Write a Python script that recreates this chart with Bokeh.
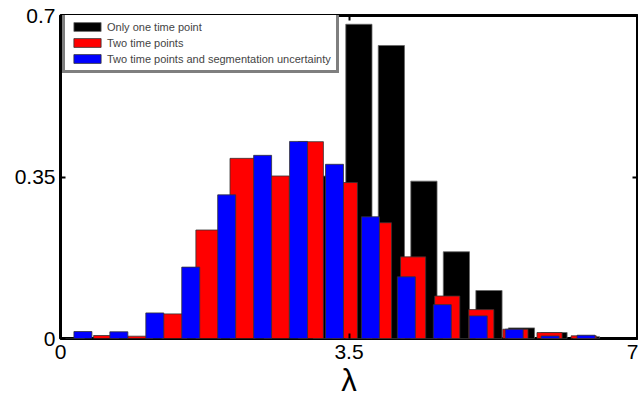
from bokeh.plotting import figure
from bokeh.models import Range1d, FixedTicker, LinearAxis
from bokeh.embed import file_html
from bokeh.resources import INLINE

# Series: "Only one time point" (black)
black_x = [3.226, 3.620, 4.014, 4.409, 4.803, 5.198, 5.592, 5.987, 6.381]
black_y = [0.352, 0.681, 0.635, 0.341, 0.188, 0.104, 0.023, 0.013, 0.004]

# Series: "Two time points" (red)
red_x = [0.1405, 0.554, 0.968, 1.382, 1.795, 2.209, 2.623, 3.037, 3.450,
         3.864, 4.278, 4.692, 5.105, 5.519, 5.933, 6.347]
red_y = [0.0, 0.0065, 0.0050, 0.0533, 0.2351, 0.3904, 0.3522, 0.4265, 0.3380,
         0.2509, 0.1769, 0.0921, 0.0626, 0.0201, 0.0129, 0.0058]

# Series: "Two time points and segmentation uncertainty" (blue)
blue_x = [0.272, 0.708, 1.144, 1.580, 2.016, 2.452, 2.888, 3.324, 3.760,
          4.196, 4.632, 5.068, 5.504, 5.940, 6.376]
blue_y = [0.0151, 0.0145, 0.0554, 0.1547, 0.3113, 0.3969, 0.4271, 0.3775, 0.2638,
          0.1337, 0.0734, 0.0490, 0.0201, 0.0054, 0.0071]

labels = ["Only one time point", "Two time points",
          "Two time points and segmentation uncertainty"]

x_ticks = [0, 3.5, 7]
x_tick_labels = {0: "0", 3.5: "3.5", 7: "7"}
y_ticks = [0, 0.35, 0.7]
y_tick_labels = {0: "0", 0.35: "0.35", 0.7: "0.7"}

p = figure(width=638, height=400, x_range=Range1d(0, 7), y_range=Range1d(0, 0.7),
           output_backend="svg", toolbar_location=None,
           min_border_left=60, min_border_right=1, min_border_top=15,
           min_border_bottom=60)

edge = "#333333"
p.vbar(x=black_x, top=black_y, width=0.318, fill_color="black", line_color="#666666",
       line_width=0.8, legend_label=labels[0])
p.vbar(x=red_x, top=red_y, width=0.305, fill_color="#ff0000", line_color=edge,
       line_width=0.8, legend_label=labels[1])
p.vbar(x=blue_x, top=blue_y, width=0.218, fill_color="#0000ff", line_color=edge,
       line_width=0.8, legend_label=labels[2])

p.xgrid.grid_line_color = None
p.ygrid.grid_line_color = None
p.outline_line_color = "black"
p.outline_line_width = 3
p.background_fill_color = "white"
p.border_fill_color = "white"

font = "Liberation Sans"
for ax, ticks, labs in ((p.xaxis[0], x_ticks, x_tick_labels), (p.yaxis[0], y_ticks, y_tick_labels)):
    ax.ticker = FixedTicker(ticks=ticks)
    ax.major_label_overrides = labs
    ax.major_label_text_font = font
    ax.major_label_text_font_size = "21px"
    ax.major_label_text_color = "black"
    ax.axis_line_color = None
    ax.major_tick_in = 5
    ax.major_tick_out = 0
    ax.major_tick_line_width = 2
    ax.minor_tick_line_color = None

p.xaxis[0].major_label_standoff = 6
p.yaxis[0].major_label_standoff = 5
p.xaxis[0].axis_label = "λ"
p.xaxis[0].axis_label_text_font = "Liberation Sans"
p.xaxis[0].axis_label_text_font_size = "31px"
p.xaxis[0].axis_label_text_font_style = "normal"
p.xaxis[0].axis_label_text_color = "black"
p.xaxis[0].axis_label_standoff = 1

# inward ticks on the top and right sides of the box
for loc, ticks in (("above", x_ticks), ("right", y_ticks)):
    a = LinearAxis(ticker=FixedTicker(ticks=ticks))
    a.major_label_overrides = {t: "" for t in ticks}
    a.major_label_text_font_size = "1px"
    a.major_label_standoff = 0
    a.axis_line_color = None
    a.major_tick_in = 5
    a.major_tick_out = 0
    a.major_tick_line_width = 2
    a.minor_tick_line_color = None
    p.add_layout(a, loc)

lg = p.legend[0]
lg.location = (2, 265)
lg.label_text_font = font
lg.label_text_font_size = "11px"
lg.glyph_width = 34
lg.glyph_height = 11
lg.label_height = 13
lg.label_standoff = 3
lg.spacing = 3
lg.padding = 5
lg.margin = 0
lg.border_line_color = "black"
lg.border_line_width = 3
lg.background_fill_color = "white"
lg.background_fill_alpha = 1

open("out.html", "w").write(file_html(p, INLINE))
